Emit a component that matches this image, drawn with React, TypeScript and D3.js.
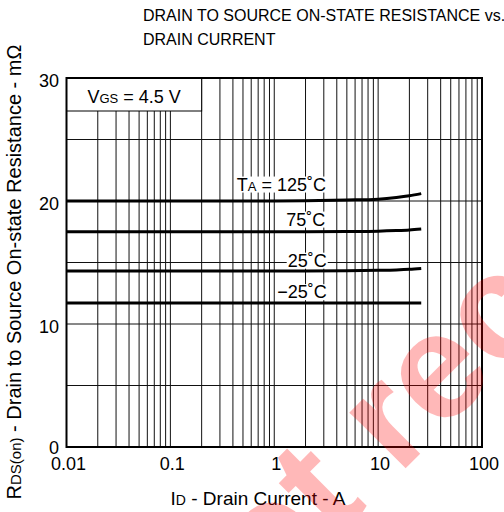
import React, { useEffect, useRef } from "react";
import * as d3 from "d3";

// drain current (A) sampled along the curves
const currents = [0.01, 0.1, 1, 2, 5, 10, 15, 20, 26];
// RDS(on) in mOhm for each ambient temperature
const r125 = [20.0, 20.0, 20.0, 20.02, 20.08, 20.15, 20.28, 20.42, 20.6];
const r75 = [17.5, 17.5, 17.5, 17.5, 17.52, 17.55, 17.6, 17.65, 17.72];
const r25 = [14.3, 14.3, 14.3, 14.3, 14.32, 14.36, 14.4, 14.45, 14.52];
const rm25 = [11.7, 11.7, 11.7, 11.7, 11.7, 11.7, 11.7, 11.7, 11.7];

const xTicks = [0.01, 0.1, 1, 10, 100];
const xTickLabels = ["0.01", "0.1", "1", "10", "100"];
const yTicks = [0, 10, 20, 30];
const yGrid = [5, 10, 15, 20, 25];

// curve labels: text, right end current, baseline value
const labelTexts = ["125˚C", "75˚C", "25˚C", "−25˚C"];
const labelX = [3.15, 3.1, 3.2, 3.2];
const labelY = [20.85, 18.0, 14.66, 12.1];

const FONT = "'Liberation Sans', Arial, sans-serif";

const App = () => {
  const ref = useRef<SVGSVGElement>(null);

  useEffect(() => {
    const svg = d3.select(ref.current);
    svg.selectAll("*").remove();

    const x = d3.scaleLog().domain([0.01, 100]).range([66.5, 482]);
    const y = d3.scaleLinear().domain([0, 30]).range([447, 78]);

    const g = svg.append("g");

    // vertical log grid: 1..9 in every decade
    const vLines: number[] = [];
    for (let e = -2; e < 2; e++) {
      for (let m = 1; m <= 9; m++) {
        const v = m * Math.pow(10, e);
        if (v > 0.01) vLines.push(v);
      }
    }
    g.selectAll(".vg")
      .data(vLines)
      .enter()
      .append("line")
      .attr("x1", (d) => x(d))
      .attr("x2", (d) => x(d))
      .attr("y1", y(30))
      .attr("y2", y(0))
      .attr("stroke", "#111")
      .attr("stroke-width", 1);

    g.selectAll(".hg")
      .data(yGrid)
      .enter()
      .append("line")
      .attr("x1", x(0.01))
      .attr("x2", x(100))
      .attr("y1", (d) => y(d))
      .attr("y2", (d) => y(d))
      .attr("stroke", "#111")
      .attr("stroke-width", 1);

    // VGS box covers the grid
    g.append("rect")
      .attr("x", x(0.01))
      .attr("y", y(30))
      .attr("width", x(0.2) - x(0.01))
      .attr("height", 33)
      .attr("fill", "#fff")
      .attr("stroke", "#000")
      .attr("stroke-width", 1);

    const vgs = g.append("text")
      .attr("x", (x(0.01) + x(0.2)) / 2)
      .attr("y", y(30) + 25)
      .attr("text-anchor", "middle")
      .attr("font-family", FONT)
      .attr("font-size", 18);
    vgs.append("tspan").text("V");
    vgs.append("tspan").attr("font-size", 13).text("GS");
    vgs.append("tspan").text(" = 4.5 V");

    // curves
    const line = d3.line<number>()
      .x((_, i) => x(currents[i]))
      .y((d) => y(d))
      .curve(d3.curveMonotoneX);

    [r125, r75, r25, rm25].forEach((s) => {
      g.append("path")
        .attr("d", line(s))
        .attr("fill", "none")
        .attr("stroke", "#000")
        .attr("stroke-width", 3);
    });

    // curve labels with white background
    labelTexts.forEach((t, i) => {
      const lg = g.append("g");
      const txt = lg.append("text")
        .attr("x", x(labelX[i]))
        .attr("y", y(labelY[i]))
        .attr("text-anchor", "end")
        .attr("font-family", FONT)
        .attr("font-size", 18);
      if (i === 0) {
        txt.append("tspan").text("T");
        txt.append("tspan").attr("font-size", 13).text("A");
        txt.append("tspan").text(" = " + t);
      } else {
        txt.text(t);
      }
      const bb = (txt.node() as SVGTextElement).getBBox();
      lg.insert("rect", "text")
        .attr("x", bb.x - 1)
        .attr("y", bb.y + 2)
        .attr("width", bb.width + 2)
        .attr("height", bb.height - 4)
        .attr("fill", "#fff");
    });

    // frame
    g.append("rect")
      .attr("x", x(0.01))
      .attr("y", y(30))
      .attr("width", x(100) - x(0.01))
      .attr("height", y(0) - y(30))
      .attr("fill", "none")
      .attr("stroke", "#000")
      .attr("stroke-width", 2);

    // tick labels
    g.selectAll(".xt")
      .data(xTicks)
      .enter()
      .append("text")
      .attr("x", (d) => x(d) + 2)
      .attr("y", 470)
      .attr("text-anchor", "middle")
      .attr("font-family", FONT)
      .attr("font-size", 18)
      .text((_, i) => xTickLabels[i]);

    g.selectAll(".yt")
      .data(yTicks)
      .enter()
      .append("text")
      .attr("x", 59)
      .attr("y", (d) => y(d) + (d === 0 ? 7 : 9))
      .attr("text-anchor", "end")
      .attr("font-family", FONT)
      .attr("font-size", 18)
      .text((d) => d);

    // axis titles
    const xt = g.append("text")
      .attr("x", 258)
      .attr("y", 505)
      .attr("text-anchor", "middle")
      .attr("font-family", FONT)
      .attr("font-size", 19);
    xt.append("tspan").text("I");
    xt.append("tspan").attr("font-size", 14).text("D");
    xt.append("tspan").text(" - Drain Current - A");

    const yt = g.append("text")
      .attr("transform", "translate(21,272) rotate(-90)")
      .attr("text-anchor", "middle")
      .attr("font-family", FONT)
      .attr("font-size", 20);
    yt.append("tspan").text("R");
    yt.append("tspan").attr("font-size", 15).text("DS(on)");
    yt.append("tspan").text(" - Drain to Source On-state Resistance - mΩ");

    // title
    const title = g.append("text")
      .attr("font-family", FONT)
      .attr("font-size", 16);
    title.append("tspan").attr("x", 143).attr("y", 21).text("DRAIN TO SOURCE ON-STATE RESISTANCE vs.");
    title.append("tspan").attr("x", 143).attr("y", 45).text("DRAIN CURRENT");

    // watermark
    svg.append("text")
      .attr("transform", "translate(192,682) rotate(-45)")
      .attr("font-family", FONT)
      .attr("font-weight", "bold")
      .attr("font-size", 150)
      .attr("fill", "rgb(255,0,0)")
      .attr("fill-opacity", 0.28)
      .text("Not recommended");
  }, []);

  return (
    <svg
      ref={ref}
      width={504}
      height={512}
      style={{ position: "absolute", left: 0, top: 0, background: "#fff" }}
    />
  );
};

export default App;
